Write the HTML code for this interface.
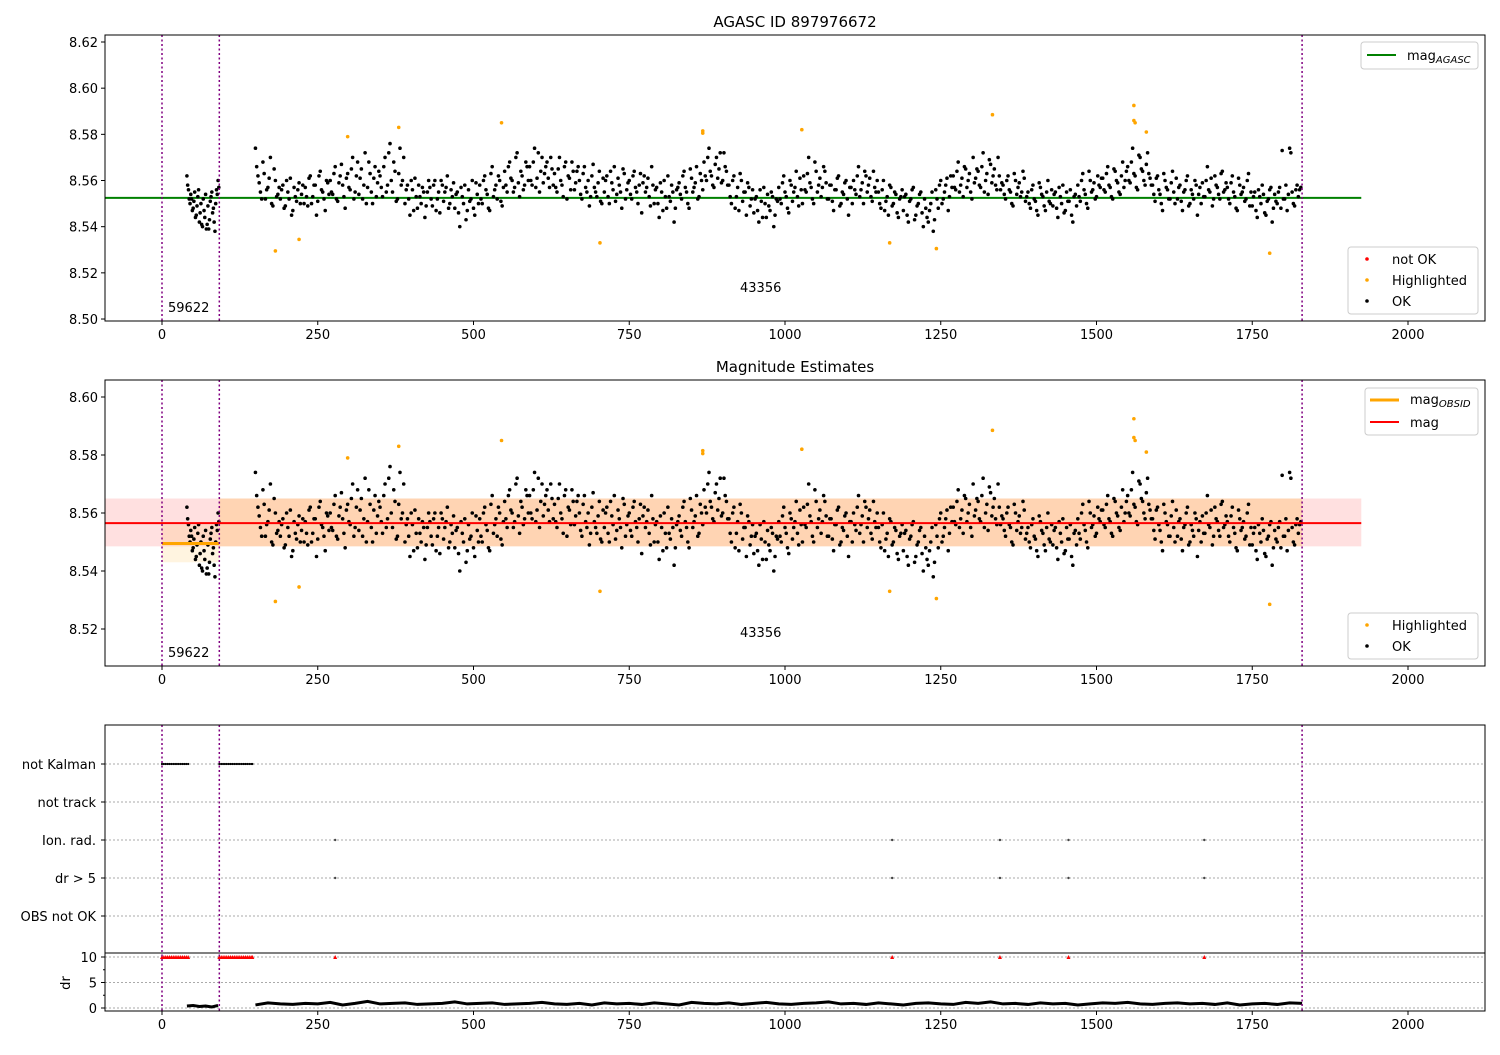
<!DOCTYPE html>
<html><head><meta charset="utf-8"><style>
body{margin:0;background:#fff;font-family:"Liberation Sans","DejaVu Sans",sans-serif;}
svg text{font-family:"DejaVu Sans","Liberation Sans",sans-serif;}
</style></head><body>
<svg id="c" width="1500" height="1050" xmlns="http://www.w3.org/2000/svg"></svg>
<script>
const seg1Start=40, seg1Step=2.5;
const seg1Mag=[62,56,50,52,48,55,45,53,42,50,40,47,54,41,39,51,55,48,38,56,60];
const seg1MagB=[58,52,54,47,51,44,49,56,46,41,52,44,39,49,43,53,46,42,50,54,57];
const seg2Start=150, seg2Step=4;
const seg2Mag=[74,62,55,68,52,57,70,49,60,54, 52,58,49,55,61,47,53,56,50,58, 57,49,62,53,58,51,64,55,47,59, 60,54,66,51,62,58,48,63,56,70,
55,68,61,52,72,57,63,50,66,59, 62,53,70,58,76,55,64,52,74,60, 50,58,45,56,61,48,53,57,44,55, 57,49,60,52,46,58,55,62,50,53,
48,55,40,53,58,47,51,60,45,54, 58,50,62,54,47,66,56,52,60,49, 64,55,68,60,57,72,53,62,58,66, 66,58,74,61,55,70,63,68,57,65,
63,55,70,58,66,52,61,68,56,64, 60,52,66,55,49,62,57,53,64,50, 55,62,50,59,66,54,58,48,63,56, 60,52,64,55,58,46,62,57,53,66,
50,57,44,55,60,48,53,58,42,56, 59,52,64,55,48,61,57,66,53,60, 68,60,74,62,57,70,65,59,72,64, 58,50,62,53,47,60,55,45,57,52,
46,53,42,51,57,44,49,55,40,52, 57,50,62,53,46,58,55,64,49,56, 62,55,70,57,50,64,58,53,66,59, 52,58,47,56,62,50,54,60,45,57,
60,54,66,56,50,62,58,53,64,55, 55,48,60,51,45,57,50,54,44,53, 47,54,42,52,57,45,50,55,40,48, 42,50,38,56,48,60,52,58,47,62,
62,56,68,58,53,65,60,55,70,61, 64,57,72,60,54,67,62,58,70,56, 58,52,62,55,49,60,57,53,64,51, 55,48,58,51,45,57,53,47,60,50,
49,55,44,53,58,47,51,56,42,54, 58,51,63,54,48,60,56,52,62,57, 61,55,66,57,52,64,59,54,68,60, 66,59,74,62,56,70,64,58,72,61,
58,51,62,54,47,60,56,52,64,50, 52,58,47,56,62,50,54,60,45,57, 59,53,66,55,49,62,57,52,64,56, 57,50,62,53,47,58,55,51,60,49,
49,55,44,53,58,46,51,56,42,54, 50,57,73,52,47,74,55,49,58,56];
const seg2StartB=152;
const seg2MagB=[66,59,52,63,56,61,50,65,53,57, 56,48,60,52,45,57,51,59,54,50, 53,61,50,58,45,62,56,52,60,54, 55,63,52,59,67,53,61,57,65,52,
62,54,65,58,50,68,55,61,53,64, 57,66,55,72,60,68,51,63,58,70, 56,52,60,47,53,58,50,55,49,60, 52,58,47,55,60,51,57,48,56,59,
54,46,57,50,43,56,52,48,59,50, 52,60,56,48,63,53,58,62,51,57, 58,66,61,55,70,59,64,56,68,60, 60,68,57,72,64,59,66,61,70,58,
57,65,60,53,68,62,56,64,59,66, 54,63,57,60,53,67,55,59,51,61, 60,53,64,56,51,61,55,65,52,59, 54,62,57,50,63,59,55,61,49,58,
56,50,59,47,53,62,51,55,48,57, 54,62,57,50,65,55,59,52,63,56, 62,70,64,58,67,61,72,60,66,58, 53,60,48,57,63,51,55,59,49,56,
52,47,56,44,50,54,47,53,45,51, 52,59,55,48,60,51,57,53,61,50, 56,63,59,52,68,55,61,57,64,52, 58,51,56,61,49,55,59,52,57,50,
56,62,53,59,64,55,61,51,57,60, 50,56,47,53,58,49,55,46,52,56, 53,45,51,56,43,49,54,46,52,44, 47,55,43,52,58,50,55,61,53,57,
57,64,55,61,66,57,63,52,59,65, 58,66,55,63,69,59,65,56,62,59, 54,60,56,50,63,54,59,55,61,53, 50,56,52,47,59,54,49,55,51,56,
54,48,57,50,46,55,51,45,53,49, 53,60,56,50,64,55,59,53,58,61, 56,63,58,53,65,60,55,62,57,64, 60,68,63,57,71,65,60,67,63,58,
54,61,56,50,63,57,52,59,55,61, 57,51,55,60,49,56,52,58,54,50, 53,60,56,61,52,58,54,63,55,59, 52,59,55,48,61,54,57,52,63,55,
53,47,56,50,54,45,52,57,48,51, 55,48,52,58,54,72,50,56,53,57];
const hlX=[182,220,298,380,545,703,868,868,1027,1168,1243,1333,1560,1560,1562,1580,1778];
const hlMag=[8.5295,8.5345,8.579,8.583,8.585,8.533,8.5815,8.5805,8.582,8.533,8.5305,8.5885,8.5925,8.586,8.585,8.581,8.5285];
const magAgasc=8.5525, magMean=8.5565, magLo=8.5485, magHi=8.565;
const magObsid=8.5495, obsidLo=8.543, obsidHi=8.556;
const obsBounds=[0,92,1830];
const obsLabels=["59622","43356"];
const notKalmanX=[0,3,6,9,12,15,18,21,24,27,30,33,36,39,42,92,95,98,101,104,107,110,113,116,119,122,125,128,131,134,137,140,143,145];
const ionRadX=[278,1172,1345,1455,1673];
const drX=[40,50,60,70,80,90,150,170,190,210,230,250,270,290,310,330,350,370,390,410,430,450,470,490,510,530,550,570,590,610,630,650,670,690,710,730,750,770,790,810,830,850,870,890,910,930,950,970,990,1010,1030,1050,1070,1090,1110,1130,1150,1170,1190,1210,1230,1250,1270,1290,1310,1330,1350,1370,1390,1410,1430,1450,1470,1490,1510,1530,1550,1570,1590,1610,1630,1650,1670,1690,1710,1730,1750,1770,1790,1810,1830];
const drV=[0.4,0.5,0.3,0.4,0.2,0.5,0.6,1.0,0.8,0.7,0.9,0.8,1.1,0.6,0.9,1.3,0.8,0.9,1.0,0.7,0.8,0.9,1.2,0.8,0.9,1.0,0.7,0.8,0.9,1.1,0.8,0.7,0.9,0.6,1.0,0.8,0.9,0.7,1.0,0.8,0.6,1.1,0.9,0.8,1.0,0.7,0.9,1.1,0.8,0.7,0.9,1.0,1.2,0.8,0.9,0.7,1.0,0.8,0.6,0.9,1.0,0.8,0.7,1.1,0.9,1.2,0.8,0.9,0.7,1.0,0.8,0.9,0.6,0.8,1.0,0.9,1.1,0.8,0.7,0.9,1.0,0.8,0.9,0.7,1.0,0.6,0.8,0.9,0.7,1.0,0.9];
const xTicks=[0,250,500,750,1000,1250,1500,1750,2000];
const topYTicks=[8.50,8.52,8.54,8.56,8.58,8.60,8.62];
const midYTicks=[8.52,8.54,8.56,8.58,8.60];
const flagCats=["not Kalman","not track","Ion. rad.","dr > 5","OBS not OK"];
const drTicks=[0,5,10];

const NS="http://www.w3.org/2000/svg";
const svg=document.getElementById('c');
function el(t,a,p){const e=document.createElementNS(NS,t);for(const k in a)e.setAttribute(k,a[k]);(p||svg).appendChild(e);return e;}
function txt(s,a,p){const e=el('text',a,p);e.textContent=s;return e;}
const X=x=>162+x*0.623;
const L=105,R=1485;
const yTop=v=>42+(8.62-v)/0.02*46.17;
const yMid=v=>397+(8.60-v)/0.02*58;
const catY=[764,802,840,878,916];
const yDr=d=>1008-d*5.1;

function mk(name){const g=el('g',{});


return g;}

function xAxis(g,bottom){
  xTicks.forEach(t=>{el('line',{x1:X(t),x2:X(t),y1:bottom,y2:bottom+4,stroke:'#000'},g);
    txt(String(t),{x:X(t),y:bottom+18,'font-size':13,'text-anchor':'middle'},g);});
}
function vlines(g,t,b){
  obsBounds.forEach(v=>el('line',{x1:X(v),x2:X(v),y1:t,y2:b,stroke:'#800080','stroke-width':1.5,'stroke-dasharray':'2,2.5'},g));
}
function scatter(g,yf){
  seg1Mag.forEach((v,i)=>el('circle',{cx:X(seg1Start+i*seg1Step),cy:yf(8.5+v/1000),r:1.8,fill:'#000'},g));
  seg1MagB.forEach((v,i)=>el('circle',{cx:X(seg1Start+1.2+i*seg1Step),cy:yf(8.5+v/1000),r:1.8,fill:'#000'},g));
  seg2Mag.forEach((v,i)=>el('circle',{cx:X(seg2Start+i*seg2Step),cy:yf(8.5+v/1000),r:1.8,fill:'#000'},g));
  seg2MagB.forEach((v,i)=>el('circle',{cx:X(seg2StartB+i*seg2Step),cy:yf(8.5+v/1000),r:1.8,fill:'#000'},g));
  hlX.forEach((x,i)=>el('circle',{cx:X(x),cy:yf(hlMag[i]),r:1.8,fill:'orange'},g));
}

// TOP panel
const topG=mk('top-panel');
const tt=txt('AGASC ID 897976672',{x:795,y:27,'font-size':15,'text-anchor':'middle'},topG);


el('line',{x1:L,x2:X(1925),y1:yTop(magAgasc),y2:yTop(magAgasc),stroke:'green','stroke-width':2},topG);
scatter(topG,yTop);
vlines(topG,35,321);
txt(obsLabels[0],{x:168,y:312,'font-size':13},topG);
txt(obsLabels[1],{x:740,y:292,'font-size':13},topG);
el('rect',{x:L,y:35,width:R-L,height:286,fill:'none',stroke:'#000'},topG);
xAxis(topG,321);
topYTicks.forEach(t=>{const y=yTop(t);el('line',{x1:L-4,x2:L,y1:y,y2:y,stroke:'#000'},topG);txt(t.toFixed(2),{x:L-7,y:y+5,'font-size':13,'text-anchor':'end'},topG);});
const lg1=mk('top-legend-line');topG.appendChild(lg1);
el('rect',{x:1361,y:42,width:117,height:27,rx:3,fill:'#fff',stroke:'#ccc'},lg1);
el('line',{x1:1367,x2:1396,y1:55,y2:55,stroke:'green','stroke-width':2},lg1);
const t1=txt('mag',{x:1407,y:60,'font-size':13},lg1);const s1=el('tspan',{'font-size':10,'font-style':'italic',dy:3},t1);s1.textContent='AGASC';
const lg2=mk('top-legend-points');topG.appendChild(lg2);
el('rect',{x:1348,y:247,width:130,height:67,rx:3,fill:'#fff',stroke:'#ccc'},lg2);
[['not OK','red',259],['Highlighted','orange',280],['OK','#000',301]].forEach(([s,c,y])=>{el('circle',{cx:1367,cy:y,r:1.8,fill:c},lg2);txt(s,{x:1392,y:y+5,'font-size':13},lg2);});

// MIDDLE panel
const midG=mk('middle-panel');
txt('Magnitude Estimates',{x:795,y:372,'font-size':15,'text-anchor':'middle'},midG);
el('rect',{x:L,y:yMid(magHi),width:X(1925)-L,height:yMid(magLo)-yMid(magHi),fill:'#ff0000',opacity:0.12},midG);
el('rect',{x:X(obsBounds[1]),y:yMid(magHi),width:X(obsBounds[2])-X(obsBounds[1]),height:yMid(magLo)-yMid(magHi),fill:'#ffa500',opacity:0.2},midG);
el('rect',{x:X(obsBounds[0]),y:yMid(obsidHi),width:X(obsBounds[1])-X(obsBounds[0]),height:yMid(obsidLo)-yMid(obsidHi),fill:'#ffa500',opacity:0.12},midG);
scatter(midG,yMid);
el('line',{x1:L,x2:X(1925),y1:yMid(magMean),y2:yMid(magMean),stroke:'red','stroke-width':2},midG);
el('line',{x1:X(obsBounds[0]),x2:X(obsBounds[1]),y1:yMid(magObsid),y2:yMid(magObsid),stroke:'orange','stroke-width':3},midG);
vlines(midG,380,666);
txt(obsLabels[0],{x:168,y:657,'font-size':13},midG);
txt(obsLabels[1],{x:740,y:637,'font-size':13},midG);
el('rect',{x:L,y:380,width:R-L,height:286,fill:'none',stroke:'#000'},midG);
xAxis(midG,666);
midYTicks.forEach(t=>{const y=yMid(t);el('line',{x1:L-4,x2:L,y1:y,y2:y,stroke:'#000'},midG);txt(t.toFixed(2),{x:L-7,y:y+5,'font-size':13,'text-anchor':'end'},midG);});
const lg3=mk('middle-legend-lines');midG.appendChild(lg3);
el('rect',{x:1365,y:388,width:113,height:47,rx:3,fill:'#fff',stroke:'#ccc'},lg3);
el('line',{x1:1370,x2:1399,y1:400,y2:400,stroke:'orange','stroke-width':3},lg3);
const t3=txt('mag',{x:1410,y:404,'font-size':13},lg3);const s3=el('tspan',{'font-size':10,'font-style':'italic',dy:3},t3);s3.textContent='OBSID';
el('line',{x1:1370,x2:1399,y1:422,y2:422,stroke:'red','stroke-width':2},lg3);
txt('mag',{x:1410,y:427,'font-size':13},lg3);
const lg4=mk('middle-legend-points');midG.appendChild(lg4);
el('rect',{x:1348,y:613,width:130,height:46,rx:3,fill:'#fff',stroke:'#ccc'},lg4);
[['Highlighted','orange',625],['OK','#000',646]].forEach(([s,c,y])=>{el('circle',{cx:1367,cy:y,r:1.8,fill:c},lg4);txt(s,{x:1392,y:y+5,'font-size':13},lg4);});

// BOTTOM panel
const botG=mk('bottom-panel');
catY.forEach((y,i)=>{el('line',{x1:L,x2:R,y1:y,y2:y,stroke:'#aaa','stroke-dasharray':'2,2'},botG);
  el('line',{x1:L-4,x2:L,y1:y,y2:y,stroke:'#000'},botG);
  txt(flagCats[i],{x:L-9,y:y+5,'font-size':13,'text-anchor':'end'},botG);});
[10,5,0].forEach(d=>el('line',{x1:L,x2:R,y1:yDr(d),y2:yDr(d),stroke:'#aaa','stroke-dasharray':'2,2'},botG));
el('line',{x1:L,x2:R,y1:953,y2:953,stroke:'#000'},botG);
notKalmanX.forEach(x=>{el('circle',{cx:X(x),cy:catY[0],r:1.1,fill:'#000'},botG);
  el('path',{d:`M${X(x)-2},${yDr(10)+2}L${X(x)+2},${yDr(10)+2}L${X(x)},${yDr(10)-2}Z`,fill:'red'},botG);});
ionRadX.forEach(x=>{el('circle',{cx:X(x),cy:catY[2],r:1.2,fill:'#444'},botG);el('circle',{cx:X(x),cy:catY[3],r:1.2,fill:'#444'},botG);
  el('path',{d:`M${X(x)-2},${yDr(10)+2}L${X(x)+2},${yDr(10)+2}L${X(x)},${yDr(10)-2}Z`,fill:'red'},botG);});
let p1='',p2='';
drX.forEach((x,i)=>{const s=`${X(x)},${yDr(drV[i])} `;if(x<=92)p1+=s;else p2+=s;});
el('polyline',{points:p1,fill:'none',stroke:'#000','stroke-width':3},botG);
el('polyline',{points:p2,fill:'none',stroke:'#000','stroke-width':3},botG);
vlines(botG,725,1011);
el('rect',{x:L,y:725,width:R-L,height:286,fill:'none',stroke:'#000'},botG);
xAxis(botG,1011);
drTicks.forEach(d=>{const y=yDr(d);el('line',{x1:L-4,x2:L,y1:y,y2:y,stroke:'#000'},botG);txt(String(d),{x:L-8,y:y+5,'font-size':13,'text-anchor':'end'},botG);});
[2.5,7.5].forEach(d=>el('line',{x1:L-2,x2:L,y1:yDr(d),y2:yDr(d),stroke:'#000'},botG));
const dl=txt('dr',{x:70,y:983,'font-size':13,'text-anchor':'middle',transform:'rotate(-90 70 983)'},botG);


</script>
</body></html>
